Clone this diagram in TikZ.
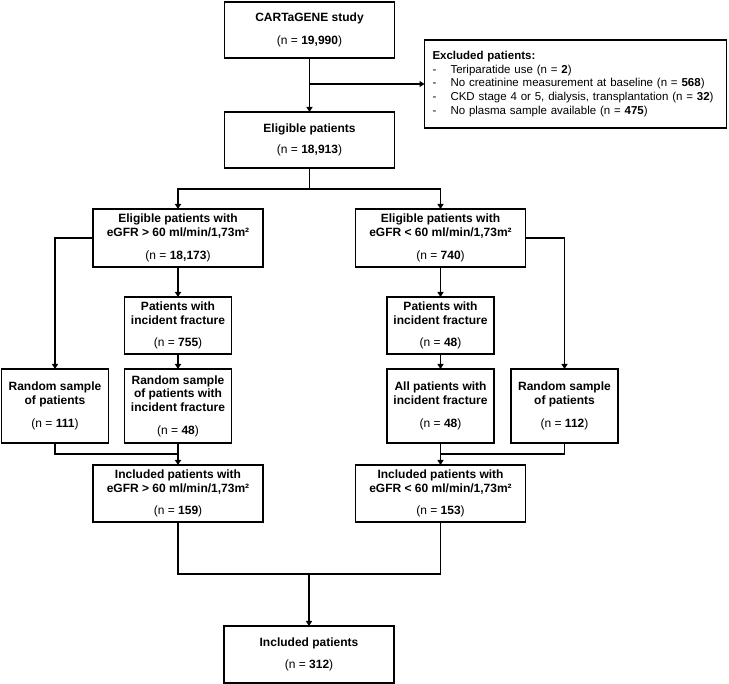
\documentclass[tikz,border=0pt]{standalone}
\usepackage{fontspec}
\setmainfont{Liberation Sans}
\usetikzlibrary{positioning}
\usetikzlibrary{arrows.meta}
\tikzset{%
  flowarrow/.style = {-{Triangle[length=5pt,width=6pt]},line width=1.2pt},
  flowline/.style = {line width=1.2pt},
  big/.style = {rectangle,draw,line width=1.2pt,align=center,inner sep=2pt,
        outer sep=0pt,minimum width=170pt,
        execute at begin node={\rule{0pt}{14pt}}},
  small/.style = {big,minimum width=107pt},
  note/.style = {rectangle,draw,line width=1.2pt,align=left,inner xsep=8pt,
        outer sep=0pt,text width=286pt,minimum height=88pt}
}
\newcommand{\excitem}{\makebox[18pt][l]{-}}

\begin{document}
\begin{tikzpicture}[node distance=30pt]\fontsize{12}{13.5}\selectfont
  \useasboundingbox (0,0) rectangle (729pt,-684pt);
  \node[big,minimum height=56pt] (study) at (309.5pt,-30pt)
    {\textbf{CARTaGENE study}\\[9.5pt](n = \textbf{19,990})};
  \node[note,font={\fontsize{11.5}{13.7}\selectfont}] (excl) [right=30pt of study,yshift=-54pt]
    {\textbf{Excluded patients:}\\
     \excitem Teriparatide use (n = \textbf{2})\\
     \excitem No creatinine measurement at baseline (n = \textbf{568})\\
     \excitem CKD stage 4 or 5, dialysis, transplantation (n = \textbf{32})\\
     \excitem No plasma sample available (n = \textbf{475})};
  \node[big,minimum height=56pt] (elig) [below=54pt of study]
    {\textbf{Eligible patients}\\[8pt](n = \textbf{18,913})};

  \node[big,minimum height=58pt] (hi) [below=41pt of elig,xshift=-131.5pt]
    {\textbf{Eligible patients with}\\\textbf{eGFR > 60 ml/min/1,73m²}\\[9.5pt](n = \textbf{18,173})};
  \node[big,minimum height=58pt] (lo) [below=41pt of elig,xshift=131pt]
    {\textbf{Eligible patients with}\\\textbf{eGFR < 60 ml/min/1,73m²}\\[9.5pt](n = \textbf{740})};

  \node[small,minimum height=57pt] (hifx) [below=of hi]
    {\textbf{Patients with}\\\textbf{incident fracture}\\[8.5pt](n = \textbf{755})};
  \node[small,minimum height=74pt] (hisel) [below=15pt of hifx]
    {\textbf{Random sample}\\\textbf{of patients with}\\\textbf{incident fracture}\\[9.5pt](n = \textbf{48})};
  \node[small,minimum height=74pt] (hirs) [left=16pt of hisel]
    {\textbf{Random sample}\\\textbf{of patients}\\[9.5pt](n = \textbf{111})};

  \node[small,minimum height=57pt] (lofx) [below=of lo]
    {\textbf{Patients with}\\\textbf{incident fracture}\\[8.5pt](n = \textbf{48})};
  \node[small,minimum height=74pt] (loall) [below=15pt of lofx]
    {\textbf{All patients with}\\\textbf{incident fracture}\\[9.5pt](n = \textbf{48})};
  \node[small,minimum height=74pt] (lors) [right=17pt of loall]
    {\textbf{Random sample}\\\textbf{of patients}\\[9.5pt](n = \textbf{112})};

  \node[big,minimum height=57pt] (hiinc) [below=22pt of hisel]
    {\textbf{Included patients with}\\\textbf{eGFR > 60 ml/min/1,73m²}\\[9pt](n = \textbf{159})};
  \node[big,minimum height=57pt] (loinc) [below=22pt of loall]
    {\textbf{Included patients with}\\\textbf{eGFR < 60 ml/min/1,73m²}\\[9pt](n = \textbf{153})};
  \node[big,minimum height=57pt] (total) [below=104pt of hiinc,xshift=131pt]
    {\textbf{Included patients}\\[9pt](n = \textbf{312})};

  \coordinate[below=26pt of study] (split);
  \coordinate[below=21pt of elig] (fork);
  \coordinate[below=11pt of hisel] (hijoin);
  \coordinate[below=11pt of loall] (lojoin);
  \coordinate[above=52pt of total] (merge);

  \draw[flowarrow] (study) -- (elig);
  \draw[flowarrow] (split) -- (split -| excl.west);
  \draw[flowline] (elig) -- (fork);
  \draw[flowarrow] (fork) -| (hi);
  \draw[flowarrow] (fork) -| (lo);

  \draw[flowarrow] (hi) -- (hifx);
  \draw[flowarrow] (hi.west) -| (hirs.north);
  \draw[flowarrow] (hifx) -- (hisel);
  \draw[flowline] (hirs.south) |- (hijoin);
  \draw[flowarrow] (hisel) -- (hiinc);

  \draw[flowarrow] (lo) -- (lofx);
  \draw[flowarrow] (lo.east) -| (lors.north);
  \draw[flowarrow] (lofx) -- (loall);
  \draw[flowline] (lors.south) |- (lojoin);
  \draw[flowarrow] (loall) -- (loinc);

  \draw[flowline] (hiinc.south) |- (merge) -| (loinc.south);
  \draw[flowarrow] (merge) -- (total);
\end{tikzpicture}
\end{document}
